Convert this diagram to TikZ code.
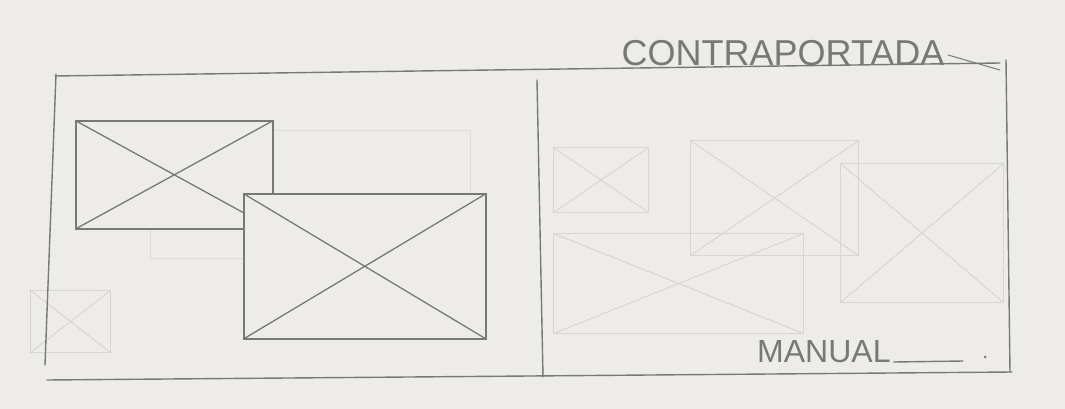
\documentclass[tikz,border=0pt]{standalone}
\usepackage{fontspec}
\setmainfont{Liberation Sans}
\usetikzlibrary{positioning}
\definecolor{paper}{RGB}{237,236,233}
\definecolor{pencil}{RGB}{120,120,120}
\definecolor{faint}{RGB}{216,214,211}

\begin{document}
\begin{tikzpicture}[
  x=1pt, y=-1pt,
  edgeline/.style={draw=pencil, line width=1.4pt, line cap=round},
  imgbox/.style={draw=pencil, fill=paper, line width=1.6pt, inner sep=0pt, anchor=north west,
    path picture={\draw[pencil, line width=1.3pt]
      (path picture bounding box.north west) -- (path picture bounding box.south east)
      (path picture bounding box.south west) -- (path picture bounding box.north east);}},
  ghostbox/.style={draw=faint, line width=1.1pt, inner sep=0pt, anchor=north west,
    path picture={\draw[faint, line width=1pt]
      (path picture bounding box.north west) -- (path picture bounding box.south east)
      (path picture bounding box.south west) -- (path picture bounding box.north east);}},
  ghostrect/.style={draw=faint!70!paper, line width=1.1pt, inner sep=0pt, anchor=north west},
  handtext/.style={text=pencil, inner sep=0pt}
]
  \fill[paper] (0,0) rectangle (1065,409);
  \useasboundingbox (0,0) rectangle (1065,409);

  % faint traces
  \node[ghostrect, minimum width=320pt, minimum height=128pt] (gl1) at (150,130) {};
  \node[ghostbox, minimum width=80pt, minimum height=62pt] (gl2) at (30,290) {};
  \node[ghostbox, minimum width=95pt, minimum height=65pt] (g1) at (553,147) {};
  \node[ghostbox, minimum width=168pt, minimum height=115pt] (g2) at (690,140) {};
  \node[ghostbox, minimum width=250pt, minimum height=100pt] (g3) at (553,233) {};
  \node[ghostbox, minimum width=163pt, minimum height=139pt] (g4) at (840,163) {};

  % frame
  \coordinate (tl) at (55,76);
  \coordinate (tr) at (1000,63);
  \coordinate (rt) at (1006,60);
  \coordinate (rb) at (1010,372);
  \coordinate (lt) at (56,74);
  \coordinate (lb) at (45,365);
  \coordinate (bl) at (47,380);
  \coordinate (br) at (1012,372);
  \coordinate (mt) at (537,80);
  \coordinate (mb) at (543,377);
  \coordinate (st) at (948,55);
  \coordinate (sb) at (1000,70);
  \draw[edgeline] (tl) -- (tr);
  \draw[edgeline] (rt) -- (rb);
  \draw[edgeline] (lt) -- (lb);
  \draw[edgeline] (bl) -- (br);
  \draw[edgeline] (mt) -- (mb);
  \draw[edgeline, line width=1pt] (st) -- (sb);

  % left page
  \node[imgbox, minimum width=197pt, minimum height=108pt] (boxa) at (75,120) {};
  \node[imgbox, minimum width=242pt, minimum height=145pt] (boxb) at (243,193) {};

  % labels
  \node[handtext, font=\fontsize{36}{40}\selectfont] (title) at (783,53) {CONTRAPORTADA};
  \node[handtext, font=\fontsize{32}{36}\selectfont, anchor=base west] (manual) at (757,362) {MANUAL};
  \coordinate (blankend) at (963,361);
  \draw[edgeline] ([xshift=3pt]manual.base east) -- (blankend);
  \fill[pencil] (985,357) circle (1.5pt);
\end{tikzpicture}
\end{document}
